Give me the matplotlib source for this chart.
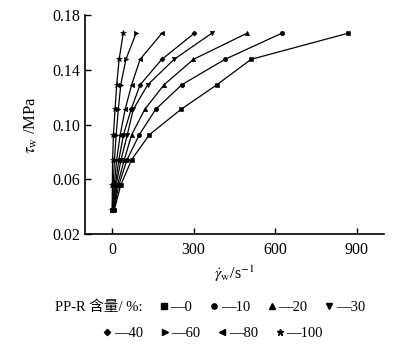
import matplotlib
matplotlib.use("Agg")
import matplotlib.pyplot as plt
from matplotlib.lines import Line2D

plt.rcParams["font.family"] = ["Liberation Serif", "Noto Sans CJK SC"]
plt.rcParams["mathtext.fontset"] = "stix"

# wall shear stress levels (MPa), same for every blend
tau_w = [0.0375, 0.0558, 0.0743, 0.0925, 0.111, 0.129, 0.1476, 0.1666]

# apparent wall shear rate (1/s) per PP-R content
rate_0 = [8, 32, 72, 137, 253, 385, 511, 866]
rate_10 = [6, 25, 55, 100, 160, 256, 415, 623]
rate_20 = [5, 20, 45, 72, 120, 191, 299, 495]
rate_30 = [4, 15, 33, 56, 78, 131, 228, 366]
rate_40 = [3, 12, 25, 42, 70, 103, 183, 302]
rate_60 = [1, 4, 9, 15, 23, 32, 51, 88]
rate_80 = [2, 8, 17, 30, 48, 72, 103, 183]
rate_100 = [0.5, 1, 2, 5, 11, 17, 26, 41]

series = [
    ("0", rate_0, "s"),
    ("10", rate_10, "o"),
    ("20", rate_20, "^"),
    ("30", rate_30, "v"),
    ("40", rate_40, "D"),
    ("60", rate_60, ">"),
    ("80", rate_80, "<"),
    ("100", rate_100, "*"),
]


def msize(mk):
    if mk == "D":
        return 2.6
    if mk == "*":
        return 4
    return 3.2


fig = plt.figure(figsize=(4.06, 3.49), dpi=100)
ax = fig.add_axes([0.209, 0.3295, 0.737, 0.6275])

for name, rate, mk in series:
    ax.plot(rate, tau_w, color="black", linewidth=0.9, marker=mk,
            markersize=msize(mk), markeredgewidth=0.4)

ax.set_xlim(-100, 1000)
ax.set_ylim(0.02, 0.18)
ax.set_xticks([0, 300, 600, 900])
ax.set_yticks([0.02, 0.06, 0.10, 0.14, 0.18])
ax.set_yticklabels(["0.02", "0.06", "0.10", "0.14", "0.18"])
ax.tick_params(direction="in", length=4, width=1, labelsize=11.5)
ax.tick_params(axis="x", pad=6)
for side in ("top", "right"):
    ax.spines[side].set_visible(False)
for side in ("left", "bottom"):
    ax.spines[side].set_linewidth(1.2)

ax.set_xlabel(r"$\dot{\gamma}_{\rm w}$/s$^{-1}$", fontsize=11.5, labelpad=4)
ax.set_ylabel(r"$\tau_{\rm w}$ /MPa", fontsize=12, labelpad=9)


# legend drawn in two rows under the axes
def handle(mk):
    return Line2D([], [], color="black", linestyle="none", marker=mk,
                  markersize=msize(mk) + 0.6)


row1 = series[:4]
row2 = series[4:]
fig.text(0.135, 0.12, "PP-R 含量/ %:", fontsize=10.5, va="center")
leg1 = fig.legend([handle(m) for _, _, m in row1], ["—" + n for n, _, _ in row1],
                  loc="center left", bbox_to_anchor=(0.375, 0.12), ncol=4,
                  frameon=False, fontsize=10.5, handlelength=0.6,
                  handletextpad=0.15, columnspacing=1.2, borderpad=0)
leg2 = fig.legend([handle(m) for _, _, m in row2], ["—" + n for n, _, _ in row2],
                  loc="center left", bbox_to_anchor=(0.235, 0.045), ncol=4,
                  frameon=False, fontsize=10.5, handlelength=0.6,
                  handletextpad=0.15, columnspacing=1.2, borderpad=0)

fig.savefig("out.png", dpi=100)
